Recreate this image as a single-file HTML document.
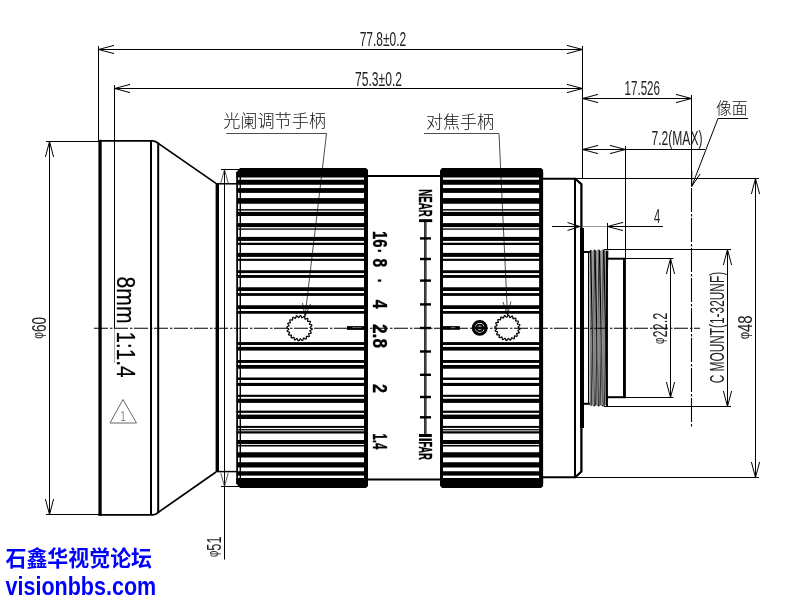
<!DOCTYPE html>
<html lang="zh"><head><meta charset="utf-8"><title>8mm 1:1.4 lens drawing</title>
<style>html,body{margin:0;padding:0;background:#fff;}body{width:800px;height:600px;overflow:hidden;}svg{display:block;will-change:transform;}text{font-family:"Liberation Sans","Noto Sans CJK SC",sans-serif;}.d{fill:#222;font-size:20.4px;}.cn{font-family:"Liberation Sans","Noto Sans CJK SC",sans-serif;font-weight:300;fill:#111;}.wm{font-weight:bold;fill:#0000ff;}.t{stroke:#000;stroke-width:1;fill:none;}</style></head><body>
<svg width="800" height="600" viewBox="0 0 800 600">
<rect width="800" height="600" fill="#fff"/>
<g>
<polygon points="236.25,172.3 240.05,168.1 366,168.1 368,170.1 368,177.5 236.25,177.5" fill="#000"/>
<polygon points="236.25,483.7 240.05,487.9 366,487.9 368,485.9 368,478.1 236.25,478.1" fill="#000"/>
<rect x="236.75" y="179.75" width="130.75" height="5.00" fill="#000" />
<rect x="236.75" y="188.10" width="130.75" height="4.80" fill="#000" />
<rect x="236.75" y="198.10" width="130.75" height="5.65" fill="#000" />
<rect x="236.75" y="209.10" width="130.75" height="1.50" fill="#000" />
<rect x="236.75" y="211.90" width="130.75" height="4.10" fill="#000" />
<rect x="236.75" y="223.10" width="130.75" height="4.00" fill="#000" />
<rect x="236.75" y="228.40" width="130.75" height="1.35" fill="#000" />
<rect x="236.75" y="236.90" width="130.75" height="4.00" fill="#000" />
<rect x="236.75" y="242.75" width="130.75" height="2.25" fill="#000" />
<rect x="236.75" y="252.90" width="130.75" height="4.00" fill="#000" />
<rect x="236.75" y="258.75" width="130.75" height="2.15" fill="#000" />
<rect x="236.75" y="270.25" width="130.75" height="2.85" fill="#000" />
<rect x="236.75" y="275.00" width="130.75" height="2.90" fill="#000" />
<rect x="236.75" y="287.25" width="130.75" height="3.75" fill="#000" />
<rect x="236.75" y="293.10" width="130.75" height="2.80" fill="#000" />
<rect x="236.75" y="305.25" width="130.75" height="3.75" fill="#000" />
<rect x="236.75" y="311.00" width="130.75" height="2.75" fill="#000" />
<rect x="236.75" y="342.10" width="130.75" height="2.90" fill="#000" />
<rect x="236.75" y="346.90" width="130.75" height="3.70" fill="#000" />
<rect x="236.75" y="360.00" width="130.75" height="2.90" fill="#000" />
<rect x="236.75" y="365.00" width="130.75" height="3.75" fill="#000" />
<rect x="236.75" y="377.50" width="130.75" height="2.50" fill="#000" />
<rect x="236.75" y="382.90" width="130.75" height="3.10" fill="#000" />
<rect x="236.75" y="394.75" width="130.75" height="2.15" fill="#000" />
<rect x="236.75" y="398.75" width="130.75" height="4.15" fill="#000" />
<rect x="236.75" y="410.60" width="130.75" height="2.30" fill="#000" />
<rect x="236.75" y="414.60" width="130.75" height="4.40" fill="#000" />
<rect x="236.75" y="425.90" width="130.75" height="2.00" fill="#000" />
<rect x="236.75" y="429.10" width="130.75" height="1.30" fill="#000" />
<rect x="236.75" y="431.25" width="130.75" height="2.25" fill="#000" />
<rect x="236.75" y="440.00" width="130.75" height="4.10" fill="#000" />
<rect x="236.75" y="445.00" width="130.75" height="1.50" fill="#000" />
<rect x="236.75" y="452.25" width="130.75" height="5.25" fill="#000" />
<rect x="236.75" y="462.25" width="130.75" height="5.25" fill="#000" />
<rect x="236.75" y="471.25" width="130.75" height="4.35" fill="#000" />
<rect x="236.25" y="172.00" width="1.75" height="312.00" fill="#000" />
<rect x="239.60" y="172.00" width="1.40" height="312.00" fill="#000" />
<rect x="364.00" y="172.00" width="4.00" height="312.00" fill="#000" />
</g>
<g>
<polygon points="440,170.5 442.0,168.1 541.1,168.1 543.1,170.1 543.1,177.5 440,177.5" fill="#000"/>
<polygon points="440,485.5 442.0,487.9 541.1,487.9 543.1,485.9 543.1,478.1 440,478.1" fill="#000"/>
<rect x="440.50" y="179.75" width="102.10" height="5.00" fill="#000" />
<rect x="440.50" y="188.10" width="102.10" height="4.80" fill="#000" />
<rect x="440.50" y="198.10" width="102.10" height="5.65" fill="#000" />
<rect x="440.50" y="209.10" width="102.10" height="1.50" fill="#000" />
<rect x="440.50" y="211.90" width="102.10" height="4.10" fill="#000" />
<rect x="440.50" y="223.10" width="102.10" height="4.00" fill="#000" />
<rect x="440.50" y="228.40" width="102.10" height="1.35" fill="#000" />
<rect x="440.50" y="236.90" width="102.10" height="4.00" fill="#000" />
<rect x="440.50" y="242.75" width="102.10" height="2.25" fill="#000" />
<rect x="440.50" y="252.90" width="102.10" height="4.00" fill="#000" />
<rect x="440.50" y="258.75" width="102.10" height="2.15" fill="#000" />
<rect x="440.50" y="270.25" width="102.10" height="2.85" fill="#000" />
<rect x="440.50" y="275.00" width="102.10" height="2.90" fill="#000" />
<rect x="440.50" y="287.25" width="102.10" height="3.75" fill="#000" />
<rect x="440.50" y="293.10" width="102.10" height="2.80" fill="#000" />
<rect x="440.50" y="305.25" width="102.10" height="3.75" fill="#000" />
<rect x="440.50" y="311.00" width="102.10" height="2.75" fill="#000" />
<rect x="440.50" y="342.10" width="102.10" height="2.90" fill="#000" />
<rect x="440.50" y="346.90" width="102.10" height="3.70" fill="#000" />
<rect x="440.50" y="360.00" width="102.10" height="2.90" fill="#000" />
<rect x="440.50" y="365.00" width="102.10" height="3.75" fill="#000" />
<rect x="440.50" y="377.50" width="102.10" height="2.50" fill="#000" />
<rect x="440.50" y="382.90" width="102.10" height="3.10" fill="#000" />
<rect x="440.50" y="394.75" width="102.10" height="2.15" fill="#000" />
<rect x="440.50" y="398.75" width="102.10" height="4.15" fill="#000" />
<rect x="440.50" y="410.60" width="102.10" height="2.30" fill="#000" />
<rect x="440.50" y="414.60" width="102.10" height="4.40" fill="#000" />
<rect x="440.50" y="425.90" width="102.10" height="2.00" fill="#000" />
<rect x="440.50" y="429.10" width="102.10" height="1.30" fill="#000" />
<rect x="440.50" y="431.25" width="102.10" height="2.25" fill="#000" />
<rect x="440.50" y="440.00" width="102.10" height="4.10" fill="#000" />
<rect x="440.50" y="445.00" width="102.10" height="1.50" fill="#000" />
<rect x="440.50" y="452.25" width="102.10" height="5.25" fill="#000" />
<rect x="440.50" y="462.25" width="102.10" height="5.25" fill="#000" />
<rect x="440.50" y="471.25" width="102.10" height="4.35" fill="#000" />
<rect x="440.00" y="172.00" width="3.00" height="312.00" fill="#000" />
<rect x="539.10" y="172.00" width="4.00" height="312.00" fill="#000" />
</g>
<rect x="98.40" y="139.80" width="3.30" height="375.80" fill="#000" />
<path d="M98.4 140.9 H152.5 Q156 141.1 158.3 143.4 L216 183.4" fill="none" stroke="#000" stroke-width="1.7"/>
<path d="M98.4 514.9 H152.5 Q156 514.7 158.3 512.3 L216 472" fill="none" stroke="#000" stroke-width="1.7"/>
<rect x="150.00" y="140.60" width="2.00" height="374.30" fill="#000" />
<rect x="157.20" y="142.50" width="2.00" height="370.50" fill="#000" />
<rect x="215.60" y="183.00" width="3.40" height="289.00" fill="#000" />
<line x1="216" y1="183.8" x2="237" y2="183.8" stroke="#000" stroke-width="1.5" />
<line x1="216" y1="471.6" x2="237" y2="471.6" stroke="#000" stroke-width="1.5" />
<line x1="367" y1="176" x2="441" y2="176" stroke="#000" stroke-width="2" />
<line x1="367" y1="479.6" x2="441" y2="479.6" stroke="#000" stroke-width="2" />
<line x1="543" y1="178.8" x2="576" y2="178.8" stroke="#000" stroke-width="2" />
<line x1="543" y1="477.2" x2="576" y2="477.2" stroke="#000" stroke-width="2" />
<rect x="574.00" y="178.00" width="2.00" height="300.00" fill="#000" />
<path d="M575.5 179 L581.4 184.2 V471.6 L575.5 477" fill="none" stroke="#000" stroke-width="2.3"/>
<rect x="580.00" y="228.00" width="4.00" height="200.00" fill="#000" />
<line x1="583.5" y1="252" x2="590.5" y2="252" stroke="#000" stroke-width="2" />
<line x1="583.5" y1="403.8" x2="590.5" y2="403.8" stroke="#000" stroke-width="2" />
<line x1="588.6" y1="252" x2="588.6" y2="404" stroke="#000" stroke-width="1.2" />
<g>
<path d="M589.8 251.2 L591 249.4 L592.6 251 L594.2 249 L596.4 251 L598.6 249 L600.8 251 L603 249 L605.2 251 L607.4 249.4 V406.6 L605.2 405 L603 407 L600.8 405 L598.6 407 L596.4 405 L594.2 407 L592.6 405 L591 406.6 L589.8 404.8 Z" fill="#858585"/>
<line x1="590.60" y1="250" x2="594.00" y2="406" stroke="#000" stroke-width="1.1"/>
<line x1="594.80" y1="250.5" x2="591.20" y2="405.5" stroke="#1a1a1a" stroke-width="0.8"/>
<line x1="592.90" y1="251" x2="593.50" y2="405" stroke="#b8b8b8" stroke-width="0.7"/>
<line x1="595.00" y1="250" x2="598.40" y2="406" stroke="#000" stroke-width="1.1"/>
<line x1="599.20" y1="250.5" x2="595.60" y2="405.5" stroke="#1a1a1a" stroke-width="0.8"/>
<line x1="597.30" y1="251" x2="597.90" y2="405" stroke="#b8b8b8" stroke-width="0.7"/>
<line x1="599.40" y1="250" x2="602.80" y2="406" stroke="#000" stroke-width="1.1"/>
<line x1="603.60" y1="250.5" x2="600.00" y2="405.5" stroke="#1a1a1a" stroke-width="0.8"/>
<line x1="601.70" y1="251" x2="602.30" y2="405" stroke="#b8b8b8" stroke-width="0.7"/>
<line x1="603.80" y1="250" x2="607.20" y2="406" stroke="#000" stroke-width="1.1"/>
<line x1="608.00" y1="250.5" x2="604.40" y2="405.5" stroke="#1a1a1a" stroke-width="0.8"/>
<line x1="606.10" y1="251" x2="606.70" y2="405" stroke="#b8b8b8" stroke-width="0.7"/>
</g>
<rect x="606.00" y="251.00" width="1.90" height="155.00" fill="#000" />
<line x1="606" y1="258.7" x2="626" y2="258.7" stroke="#000" stroke-width="2" />
<line x1="606" y1="397.2" x2="626" y2="397.2" stroke="#000" stroke-width="2" />
<rect x="623.00" y="258.00" width="2.90" height="140.00" fill="#000" />
<polygon points="311.20,328.20 311.58,328.44 311.90,328.69 312.10,328.94 312.16,329.20 312.06,329.44 311.82,329.66 311.47,329.86 311.06,330.03 310.64,330.19 310.28,330.34 310.03,330.51 309.90,330.70 309.93,330.92 310.08,331.18 310.33,331.49 310.63,331.82 310.92,332.16 311.14,332.49 311.26,332.80 311.23,333.06 311.07,333.26 310.77,333.39 310.37,333.47 309.92,333.51 309.48,333.53 309.09,333.57 308.80,333.65 308.62,333.79 308.58,334.01 308.64,334.31 308.78,334.67 308.97,335.08 309.13,335.49 309.24,335.88 309.26,336.21 309.16,336.45 308.94,336.59 308.61,336.62 308.21,336.57 307.77,336.47 307.34,336.36 306.96,336.27 306.66,336.26 306.45,336.34 306.34,336.53 306.31,336.83 306.33,337.22 306.38,337.67 306.41,338.11 306.39,338.52 306.31,338.83 306.14,339.03 305.88,339.09 305.56,339.03 305.20,338.86 304.81,338.62 304.44,338.38 304.10,338.18 303.82,338.07 303.59,338.09 303.43,338.23 303.30,338.51 303.21,338.89 303.12,339.33 303.01,339.76 302.87,340.14 302.69,340.41 302.46,340.55 302.21,340.53 301.92,340.37 301.62,340.09 301.33,339.76 301.05,339.41 300.79,339.12 300.56,338.92 300.34,338.87 300.13,338.96 299.93,339.18 299.72,339.52 299.50,339.90 299.26,340.28 299.01,340.60 298.76,340.80 298.50,340.86 298.26,340.76 298.04,340.52 297.84,340.17 297.67,339.76 297.51,339.34 297.36,338.98 297.19,338.73 297.00,338.60 296.78,338.63 296.52,338.78 296.21,339.03 295.88,339.33 295.54,339.62 295.21,339.84 294.90,339.96 294.64,339.93 294.44,339.77 294.31,339.47 294.23,339.07 294.19,338.62 294.17,338.18 294.13,337.79 294.05,337.50 293.91,337.32 293.69,337.28 293.39,337.34 293.03,337.48 292.62,337.67 292.21,337.83 291.82,337.94 291.49,337.96 291.25,337.86 291.11,337.64 291.08,337.31 291.13,336.91 291.23,336.47 291.34,336.04 291.43,335.66 291.44,335.36 291.36,335.15 291.17,335.04 290.87,335.01 290.48,335.03 290.03,335.08 289.59,335.11 289.18,335.09 288.87,335.01 288.67,334.84 288.61,334.58 288.67,334.26 288.84,333.90 289.08,333.51 289.32,333.14 289.52,332.80 289.63,332.52 289.61,332.29 289.47,332.13 289.19,332.00 288.81,331.91 288.37,331.82 287.94,331.71 287.56,331.57 287.29,331.39 287.15,331.16 287.17,330.91 287.33,330.62 287.61,330.32 287.94,330.03 288.29,329.75 288.58,329.49 288.78,329.26 288.83,329.04 288.74,328.83 288.52,328.63 288.18,328.42 287.80,328.20 287.42,327.96 287.10,327.71 286.90,327.46 286.84,327.20 286.94,326.96 287.18,326.74 287.53,326.54 287.94,326.37 288.36,326.21 288.72,326.06 288.97,325.89 289.10,325.70 289.07,325.48 288.92,325.22 288.67,324.91 288.37,324.58 288.08,324.24 287.86,323.91 287.74,323.60 287.77,323.34 287.93,323.14 288.23,323.01 288.63,322.93 289.08,322.89 289.52,322.87 289.91,322.83 290.20,322.75 290.38,322.61 290.42,322.39 290.36,322.09 290.22,321.73 290.03,321.32 289.87,320.91 289.76,320.52 289.74,320.19 289.84,319.95 290.06,319.81 290.39,319.78 290.79,319.83 291.23,319.93 291.66,320.04 292.04,320.13 292.34,320.14 292.55,320.06 292.66,319.87 292.69,319.57 292.67,319.18 292.62,318.73 292.59,318.29 292.61,317.88 292.69,317.57 292.86,317.37 293.12,317.31 293.44,317.37 293.80,317.54 294.19,317.78 294.56,318.02 294.90,318.22 295.18,318.33 295.41,318.31 295.57,318.17 295.70,317.89 295.79,317.51 295.88,317.07 295.99,316.64 296.13,316.26 296.31,315.99 296.54,315.85 296.79,315.87 297.08,316.03 297.38,316.31 297.67,316.64 297.95,316.99 298.21,317.28 298.44,317.48 298.66,317.53 298.87,317.44 299.07,317.22 299.28,316.88 299.50,316.50 299.74,316.12 299.99,315.80 300.24,315.60 300.50,315.54 300.74,315.64 300.96,315.88 301.16,316.23 301.33,316.64 301.49,317.06 301.64,317.42 301.81,317.67 302.00,317.80 302.22,317.77 302.48,317.62 302.79,317.37 303.12,317.07 303.46,316.78 303.79,316.56 304.10,316.44 304.36,316.47 304.56,316.63 304.69,316.93 304.77,317.33 304.81,317.78 304.83,318.22 304.87,318.61 304.95,318.90 305.09,319.08 305.31,319.12 305.61,319.06 305.97,318.92 306.38,318.73 306.79,318.57 307.18,318.46 307.51,318.44 307.75,318.54 307.89,318.76 307.92,319.09 307.87,319.49 307.77,319.93 307.66,320.36 307.57,320.74 307.56,321.04 307.64,321.25 307.83,321.36 308.13,321.39 308.52,321.37 308.97,321.32 309.41,321.29 309.82,321.31 310.13,321.39 310.33,321.56 310.39,321.82 310.33,322.14 310.16,322.50 309.92,322.89 309.68,323.26 309.48,323.60 309.37,323.88 309.39,324.11 309.53,324.27 309.81,324.40 310.19,324.49 310.63,324.58 311.06,324.69 311.44,324.83 311.71,325.01 311.85,325.24 311.83,325.49 311.67,325.78 311.39,326.08 311.06,326.37 310.71,326.65 310.42,326.91 310.22,327.14 310.17,327.36 310.26,327.57 310.48,327.77 310.82,327.98 311.20,328.20" fill="none" stroke="#000" stroke-width="1.2"/>
<polygon points="519.20,327.90 519.58,328.14 519.90,328.39 520.10,328.64 520.16,328.90 520.06,329.14 519.82,329.36 519.47,329.56 519.06,329.73 518.64,329.89 518.28,330.04 518.03,330.21 517.90,330.40 517.93,330.62 518.08,330.88 518.33,331.19 518.63,331.52 518.92,331.86 519.14,332.19 519.26,332.50 519.23,332.76 519.07,332.96 518.77,333.09 518.37,333.17 517.92,333.21 517.48,333.23 517.09,333.27 516.80,333.35 516.62,333.49 516.58,333.71 516.64,334.01 516.78,334.37 516.97,334.78 517.13,335.19 517.24,335.58 517.26,335.91 517.16,336.15 516.94,336.29 516.61,336.32 516.21,336.27 515.77,336.17 515.34,336.06 514.96,335.97 514.66,335.96 514.45,336.04 514.34,336.23 514.31,336.53 514.33,336.92 514.38,337.37 514.41,337.81 514.39,338.22 514.31,338.53 514.14,338.73 513.88,338.79 513.56,338.73 513.20,338.56 512.81,338.32 512.44,338.08 512.10,337.88 511.82,337.77 511.59,337.79 511.43,337.93 511.30,338.21 511.21,338.59 511.12,339.03 511.01,339.46 510.87,339.84 510.69,340.11 510.46,340.25 510.21,340.23 509.92,340.07 509.62,339.79 509.33,339.46 509.05,339.11 508.79,338.82 508.56,338.62 508.34,338.57 508.13,338.66 507.93,338.88 507.72,339.22 507.50,339.60 507.26,339.98 507.01,340.30 506.76,340.50 506.50,340.56 506.26,340.46 506.04,340.22 505.84,339.87 505.67,339.46 505.51,339.04 505.36,338.68 505.19,338.43 505.00,338.30 504.78,338.33 504.52,338.48 504.21,338.73 503.88,339.03 503.54,339.32 503.21,339.54 502.90,339.66 502.64,339.63 502.44,339.47 502.31,339.17 502.23,338.77 502.19,338.32 502.17,337.88 502.13,337.49 502.05,337.20 501.91,337.02 501.69,336.98 501.39,337.04 501.03,337.18 500.62,337.37 500.21,337.53 499.82,337.64 499.49,337.66 499.25,337.56 499.11,337.34 499.08,337.01 499.13,336.61 499.23,336.17 499.34,335.74 499.43,335.36 499.44,335.06 499.36,334.85 499.17,334.74 498.87,334.71 498.48,334.73 498.03,334.78 497.59,334.81 497.18,334.79 496.87,334.71 496.67,334.54 496.61,334.28 496.67,333.96 496.84,333.60 497.08,333.21 497.32,332.84 497.52,332.50 497.63,332.22 497.61,331.99 497.47,331.83 497.19,331.70 496.81,331.61 496.37,331.52 495.94,331.41 495.56,331.27 495.29,331.09 495.15,330.86 495.17,330.61 495.33,330.32 495.61,330.02 495.94,329.73 496.29,329.45 496.58,329.19 496.78,328.96 496.83,328.74 496.74,328.53 496.52,328.33 496.18,328.12 495.80,327.90 495.42,327.66 495.10,327.41 494.90,327.16 494.84,326.90 494.94,326.66 495.18,326.44 495.53,326.24 495.94,326.07 496.36,325.91 496.72,325.76 496.97,325.59 497.10,325.40 497.07,325.18 496.92,324.92 496.67,324.61 496.37,324.28 496.08,323.94 495.86,323.61 495.74,323.30 495.77,323.04 495.93,322.84 496.23,322.71 496.63,322.63 497.08,322.59 497.52,322.57 497.91,322.53 498.20,322.45 498.38,322.31 498.42,322.09 498.36,321.79 498.22,321.43 498.03,321.02 497.87,320.61 497.76,320.22 497.74,319.89 497.84,319.65 498.06,319.51 498.39,319.48 498.79,319.53 499.23,319.63 499.66,319.74 500.04,319.83 500.34,319.84 500.55,319.76 500.66,319.57 500.69,319.27 500.67,318.88 500.62,318.43 500.59,317.99 500.61,317.58 500.69,317.27 500.86,317.07 501.12,317.01 501.44,317.07 501.80,317.24 502.19,317.48 502.56,317.72 502.90,317.92 503.18,318.03 503.41,318.01 503.57,317.87 503.70,317.59 503.79,317.21 503.88,316.77 503.99,316.34 504.13,315.96 504.31,315.69 504.54,315.55 504.79,315.57 505.08,315.73 505.38,316.01 505.67,316.34 505.95,316.69 506.21,316.98 506.44,317.18 506.66,317.23 506.87,317.14 507.07,316.92 507.28,316.58 507.50,316.20 507.74,315.82 507.99,315.50 508.24,315.30 508.50,315.24 508.74,315.34 508.96,315.58 509.16,315.93 509.33,316.34 509.49,316.76 509.64,317.12 509.81,317.37 510.00,317.50 510.22,317.47 510.48,317.32 510.79,317.07 511.12,316.77 511.46,316.48 511.79,316.26 512.10,316.14 512.36,316.17 512.56,316.33 512.69,316.63 512.77,317.03 512.81,317.48 512.83,317.92 512.87,318.31 512.95,318.60 513.09,318.78 513.31,318.82 513.61,318.76 513.97,318.62 514.38,318.43 514.79,318.27 515.18,318.16 515.51,318.14 515.75,318.24 515.89,318.46 515.92,318.79 515.87,319.19 515.77,319.63 515.66,320.06 515.57,320.44 515.56,320.74 515.64,320.95 515.83,321.06 516.13,321.09 516.52,321.07 516.97,321.02 517.41,320.99 517.82,321.01 518.13,321.09 518.33,321.26 518.39,321.52 518.33,321.84 518.16,322.20 517.92,322.59 517.68,322.96 517.48,323.30 517.37,323.58 517.39,323.81 517.53,323.97 517.81,324.10 518.19,324.19 518.63,324.28 519.06,324.39 519.44,324.53 519.71,324.71 519.85,324.94 519.83,325.19 519.67,325.48 519.39,325.78 519.06,326.07 518.71,326.35 518.42,326.61 518.22,326.84 518.17,327.06 518.26,327.27 518.48,327.47 518.82,327.68 519.20,327.90" fill="none" stroke="#000" stroke-width="1.2"/>
<rect x="347.00" y="326.10" width="17.50" height="3.80" fill="#000" />
<rect x="352.50" y="327.20" width="9.00" height="0.90" fill="#999" />
<rect x="442.50" y="326.10" width="17.30" height="3.70" fill="#000" />
<rect x="450.50" y="327.30" width="5.00" height="0.90" fill="#aaa" />
<circle cx="479.7" cy="327.9" r="6.4" fill="#fff" stroke="#000" stroke-width="3"/>
<circle cx="479.7" cy="327.9" r="3.2" fill="none" stroke="#000" stroke-width="1.8"/>
<rect x="474.00" y="326.50" width="11.40" height="2.90" fill="#000" />
<rect x="424.20" y="220.00" width="2.30" height="216.00" fill="#000" />
<rect x="425.05" y="222.00" width="0.60" height="212.00" fill="#777" />
<rect x="419.00" y="219.20" width="13.20" height="2.90" fill="#000" />
<rect x="419.00" y="434.00" width="12.80" height="3.00" fill="#000" />
<rect x="419.00" y="438.50" width="12.80" height="2.40" fill="#000" />
<rect x="420.00" y="237.20" width="11.00" height="2.40" fill="#000" />
<rect x="420.00" y="257.80" width="11.00" height="2.40" fill="#000" />
<rect x="420.00" y="279.40" width="11.00" height="2.40" fill="#000" />
<rect x="420.00" y="303.20" width="11.00" height="2.40" fill="#000" />
<rect x="420.00" y="326.80" width="11.00" height="2.40" fill="#000" />
<rect x="420.00" y="350.30" width="11.00" height="2.40" fill="#000" />
<rect x="420.00" y="373.60" width="11.00" height="2.40" fill="#000" />
<rect x="420.00" y="395.80" width="11.00" height="2.40" fill="#000" />
<rect x="420.00" y="416.10" width="11.00" height="2.40" fill="#000" />
<text transform="translate(419 189.3) rotate(90)" font-size="18.4" textLength="27.3" lengthAdjust="spacingAndGlyphs" font-weight="bold" fill="#000" stroke="#000" stroke-width="0.35">NEAR</text>
<text transform="translate(419 441.5) rotate(90)" font-size="18.4" textLength="18.2" lengthAdjust="spacingAndGlyphs" font-weight="bold" fill="#000" stroke="#000" stroke-width="0.35">FAR</text>
<text transform="translate(373.2 231) rotate(90)" font-size="19.9" textLength="16.5" lengthAdjust="spacingAndGlyphs" font-weight="bold" fill="#000" stroke="#000" stroke-width="0.35">16</text>
<text transform="translate(373.2 249) rotate(90)" font-size="19.9" textLength="4.4" lengthAdjust="spacingAndGlyphs" font-weight="bold" fill="#000" stroke="#000" stroke-width="0.35">·</text>
<text transform="translate(373.2 258.6) rotate(90)" font-size="19.9" textLength="8.6" lengthAdjust="spacingAndGlyphs" font-weight="bold" fill="#000" stroke="#000" stroke-width="0.35">8</text>
<text transform="translate(373.2 278.8) rotate(90)" font-size="19.9" textLength="4.4" lengthAdjust="spacingAndGlyphs" font-weight="bold" fill="#000" stroke="#000" stroke-width="0.35">·</text>
<text transform="translate(373.2 299.8) rotate(90)" font-size="19.9" textLength="8.8" lengthAdjust="spacingAndGlyphs" font-weight="bold" fill="#000" stroke="#000" stroke-width="0.35">4</text>
<text transform="translate(373.2 324) rotate(90)" font-size="19.9" textLength="24" lengthAdjust="spacingAndGlyphs" font-weight="bold" fill="#000" stroke="#000" stroke-width="0.35">2.8</text>
<text transform="translate(373.2 384) rotate(90)" font-size="19.9" textLength="9" lengthAdjust="spacingAndGlyphs" font-weight="bold" fill="#000" stroke="#000" stroke-width="0.35">2</text>
<text transform="translate(373.2 433.6) rotate(90)" font-size="19.9" textLength="15.6" lengthAdjust="spacingAndGlyphs" font-weight="bold" fill="#000" stroke="#000" stroke-width="0.35">1.4</text>
<text transform="translate(116.5 276.5) rotate(90)" font-size="25.2" fill="#000" stroke="#000" stroke-width="0.25"><tspan x="0" textLength="47.1" lengthAdjust="spacingAndGlyphs">8mm</tspan><tspan x="49.2" textLength="51.9" lengthAdjust="spacingAndGlyphs"> 1:1.4</tspan></text>
<polygon points="123,399.5 110,423 136.5,423" fill="none" stroke="#666" stroke-width="1"/>
<text x="120.3" y="421" font-size="15" textLength="5.5" lengthAdjust="spacingAndGlyphs" fill="#888">1</text>
<line x1="98.5" y1="46" x2="98.5" y2="140" stroke="#000" stroke-width="1" />
<line x1="582.5" y1="46" x2="582.5" y2="178" stroke="#000" stroke-width="1" />
<line x1="98.5" y1="49.5" x2="582.5" y2="49.5" stroke="#000" stroke-width="1" />
<polyline points="114.00,53.60 98.5,49.5 114.00,45.40" fill="none" stroke="#000" stroke-width="1"/>
<polyline points="567.00,45.40 582.5,49.5 567.00,53.60" fill="none" stroke="#000" stroke-width="1"/>
<text x="359.7" y="45.6" class="d" textLength="46.6" lengthAdjust="spacingAndGlyphs" >77.8±0.2</text>
<line x1="114.5" y1="85" x2="114.5" y2="328" stroke="#000" stroke-width="1" />
<line x1="114.5" y1="328" x2="114.5" y2="363" stroke="#aaa" stroke-width="1" />
<line x1="114.5" y1="88.5" x2="582.5" y2="88.5" stroke="#000" stroke-width="1" />
<polyline points="130.00,92.60 114.5,88.5 130.00,84.40" fill="none" stroke="#000" stroke-width="1"/>
<polyline points="567.00,84.40 582.5,88.5 567.00,92.60" fill="none" stroke="#000" stroke-width="1"/>
<text x="355" y="85.6" class="d" textLength="47" lengthAdjust="spacingAndGlyphs" >75.3±0.2</text>
<line x1="691.5" y1="95" x2="691.5" y2="186" stroke="#000" stroke-width="1" />
<line x1="582.5" y1="98.5" x2="691.5" y2="98.5" stroke="#000" stroke-width="1" />
<polyline points="598.00,102.60 582.5,98.5 598.00,94.40" fill="none" stroke="#000" stroke-width="1"/>
<polyline points="676.00,94.40 691.5,98.5 676.00,102.60" fill="none" stroke="#000" stroke-width="1"/>
<text x="624.5" y="94.5" class="d" textLength="35.5" lengthAdjust="spacingAndGlyphs" >17.526</text>
<line x1="625.5" y1="146" x2="625.5" y2="258" stroke="#000" stroke-width="1" />
<line x1="582.5" y1="149.5" x2="705" y2="149.5" stroke="#000" stroke-width="1" />
<polyline points="598.00,153.60 582.5,149.5 598.00,145.40" fill="none" stroke="#000" stroke-width="1"/>
<polyline points="610.00,145.40 625.5,149.5 610.00,153.60" fill="none" stroke="#000" stroke-width="1"/>
<text x="651.5" y="145" class="d" textLength="51" lengthAdjust="spacingAndGlyphs" >7.2(MAX)</text>
<line x1="552" y1="226.5" x2="580" y2="226.5" stroke="#000" stroke-width="1" />
<line x1="583" y1="226.5" x2="607" y2="226.5" stroke="#999" stroke-width="1" />
<line x1="607.5" y1="226.5" x2="663" y2="226.5" stroke="#000" stroke-width="1" />
<polyline points="567.50,222.50 580,226.5 567.50,230.50" fill="none" stroke="#000" stroke-width="1"/>
<polyline points="623.00,230.60 607.5,226.5 623.00,222.40" fill="none" stroke="#000" stroke-width="1"/>
<line x1="607.5" y1="223" x2="607.5" y2="249" stroke="#000" stroke-width="1" />
<text x="654" y="222.6" class="d" textLength="6.2" lengthAdjust="spacingAndGlyphs" >4</text>
<line x1="576" y1="178.5" x2="759" y2="178.5" stroke="#000" stroke-width="1" />
<line x1="576" y1="477.5" x2="759" y2="477.5" stroke="#000" stroke-width="1" />
<line x1="604" y1="249.5" x2="731" y2="249.5" stroke="#000" stroke-width="1" />
<line x1="604" y1="406.5" x2="731" y2="406.5" stroke="#000" stroke-width="1" />
<line x1="625" y1="258.5" x2="673.5" y2="258.5" stroke="#000" stroke-width="1" />
<line x1="625" y1="397.5" x2="673.5" y2="397.5" stroke="#000" stroke-width="1" />
<line x1="670.5" y1="258.5" x2="670.5" y2="397.5" stroke="#000" stroke-width="1" />
<polyline points="666.40,274.00 670.5,258.5 674.60,274.00" fill="none" stroke="#000" stroke-width="1"/>
<polyline points="674.60,382.00 670.5,397.5 666.40,382.00" fill="none" stroke="#000" stroke-width="1"/>
<line x1="727.5" y1="249.5" x2="727.5" y2="406.5" stroke="#000" stroke-width="1" />
<polyline points="723.40,265.00 727.5,249.5 731.60,265.00" fill="none" stroke="#000" stroke-width="1"/>
<polyline points="731.60,391.00 727.5,406.5 723.40,391.00" fill="none" stroke="#000" stroke-width="1"/>
<line x1="755.5" y1="178.5" x2="755.5" y2="477.5" stroke="#000" stroke-width="1" />
<polyline points="751.40,194.00 755.5,178.5 759.60,194.00" fill="none" stroke="#000" stroke-width="1"/>
<polyline points="759.60,462.00 755.5,477.5 751.40,462.00" fill="none" stroke="#000" stroke-width="1"/>
<text transform="translate(666.7 343.9) rotate(-90)" class="d" textLength="31.2" lengthAdjust="spacingAndGlyphs" ><tspan font-size="15.5" dy="-3.2">φ</tspan><tspan dy="3.2">22.2</tspan></text>
<text transform="translate(724 383.3) rotate(-90)" class="d" textLength="111.4" lengthAdjust="spacingAndGlyphs" >C MOUNT(1-32UNF)</text>
<text transform="translate(752 339.3) rotate(-90)" class="d" textLength="24" lengthAdjust="spacingAndGlyphs" ><tspan font-size="15.5" dy="-3.2">φ</tspan><tspan dy="3.2">48</tspan></text>
<line x1="691.5" y1="188" x2="691.5" y2="427" stroke="#000" stroke-width="1.1" stroke-dasharray="24 2 2.5 1.5"/>
<line x1="46" y1="141.5" x2="99" y2="141.5" stroke="#000" stroke-width="1" />
<line x1="46" y1="514.5" x2="99" y2="514.5" stroke="#000" stroke-width="1" />
<line x1="49.5" y1="141.5" x2="49.5" y2="514.5" stroke="#000" stroke-width="1" />
<polyline points="45.40,157.00 49.5,141.5 53.60,157.00" fill="none" stroke="#000" stroke-width="1"/>
<polyline points="53.60,499.00 49.5,514.5 45.40,499.00" fill="none" stroke="#000" stroke-width="1"/>
<text transform="translate(46 338.8) rotate(-90)" class="d" textLength="21.8" lengthAdjust="spacingAndGlyphs" ><tspan font-size="15.5" dy="-3.2">φ</tspan><tspan dy="3.2">60</tspan></text>
<line x1="221" y1="169.5" x2="239" y2="169.5" stroke="#000" stroke-width="1" />
<line x1="221" y1="486.5" x2="241" y2="486.5" stroke="#000" stroke-width="1" />
<line x1="224.5" y1="169.5" x2="224.5" y2="559.5" stroke="#000" stroke-width="1" />
<polyline points="220.80,183.00 224.5,169.5 228.20,183.00" fill="none" stroke="#333" stroke-width="0.8"/>
<polyline points="228.20,473.00 224.5,486.5 220.80,473.00" fill="none" stroke="#333" stroke-width="0.8"/>
<text transform="translate(221 557) rotate(-90)" class="d" textLength="20.5" lengthAdjust="spacingAndGlyphs" ><tspan font-size="15.5" dy="-3.2">φ</tspan><tspan dy="3.2">51</tspan></text>
<text x="223.2" y="127.4" class="cn" font-size="17.2" textLength="102.8" lengthAdjust="spacingAndGlyphs" >光阑调节手柄</text>
<polyline points="226.3,133.5 326.5,133.5 305,316.5" fill="none" stroke="#000" stroke-width="0.7"/>
<polyline points="302.5,303 305,316.5 310.5,304" fill="none" stroke="#000" stroke-width="0.7"/>
<text x="426" y="127.6" class="cn" font-size="17.2" textLength="68" lengthAdjust="spacingAndGlyphs" >对焦手柄</text>
<polyline points="424,133.5 499,133.5 507.5,315" fill="none" stroke="#000" stroke-width="0.7"/>
<polyline points="503,302 507.5,315 511,301.5" fill="none" stroke="#000" stroke-width="0.7"/>
<text x="716" y="114.4" class="cn" font-size="16.4" textLength="31.5" lengthAdjust="spacingAndGlyphs" >像面</text>
<polyline points="748,118.5 718,118.5 691.7,186.5" fill="none" stroke="#000" stroke-width="1"/>
<polyline points="691.8,171 691.7,186.5 700,174" fill="none" stroke="#000" stroke-width="1"/>
<line x1="94" y1="328.2" x2="700" y2="328.2" stroke="#000" stroke-width="1.1" stroke-dasharray="14 2 2.5 1.5"/>
<text x="5.5" y="566.4" class="wm" font-size="22" textLength="146.5" lengthAdjust="spacingAndGlyphs" >石鑫华视觉论坛</text>
<text x="5.5" y="595.2" class="wm" font-size="26.2" textLength="150.7" lengthAdjust="spacingAndGlyphs" >visionbbs.com</text>
</svg></body></html>
